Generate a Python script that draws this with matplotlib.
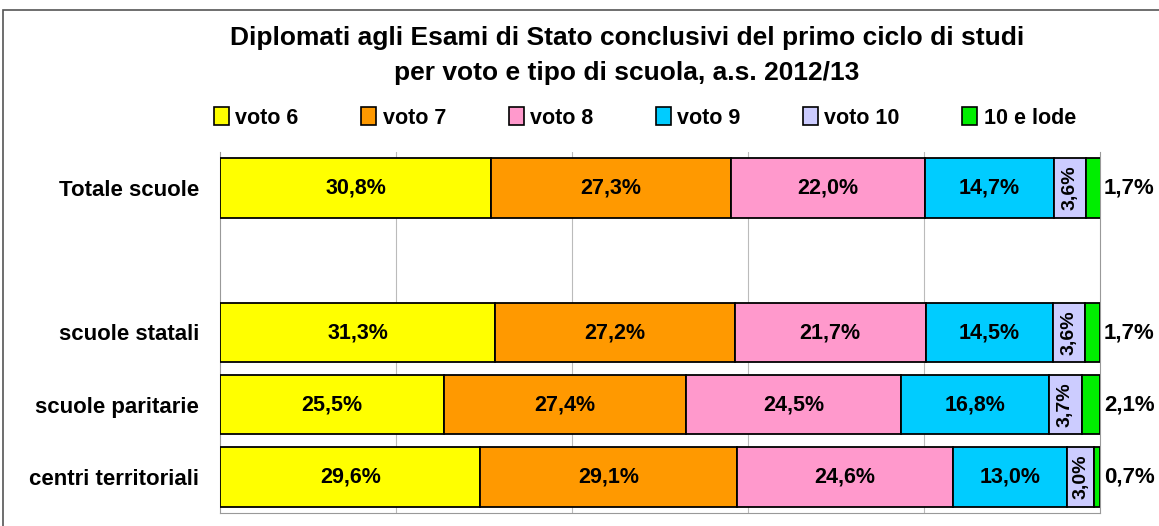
import matplotlib.pyplot as plt
from matplotlib.patches import Rectangle, Patch

# data (percentuali)
categories = ['Totale scuole', '', 'scuole statali', 'scuole paritarie', 'centri territoriali']
series_names = ['voto 6', 'voto 7', 'voto 8', 'voto 9', 'voto 10', '10 e lode']
voto6 = [30.8, None, 31.3, 25.5, 29.6]
voto7 = [27.3, None, 27.2, 27.4, 29.1]
voto8 = [22.0, None, 21.7, 24.5, 24.6]
voto9 = [14.7, None, 14.5, 16.8, 13.0]
voto10 = [3.6, None, 3.6, 3.7, 3.0]
lode = [1.7, None, 1.7, 2.1, 0.7]
colors = ['#FFFF00', '#FF9900', '#FF99CC', '#00CCFF', '#CCCCFF', '#00EE00']

plt.rcParams['font.family'] = ['Liberation Sans', 'DejaVu Sans']


def fmt(v):
    return f'{v:.1f}%'.replace('.', ',')


fig = plt.figure(figsize=(11.59, 5.26), dpi=100)
fig.patches.append(Rectangle((3 / 1159, -0.1), 1.2, (526 - 10) / 526 + 0.1,
                             transform=fig.transFigure, fill=False,
                             edgecolor='#555555', linewidth=1.2))
ax = fig.add_axes([220 / 1159, 13 / 526, 880 / 1159, 361 / 526])

series = [voto6, voto7, voto8, voto9, voto10, lode]
for i, cat in enumerate(categories):
    if series[0][i] is None:
        continue
    left = 0
    for s, (vals, col) in enumerate(zip(series, colors)):
        v = vals[i]
        ax.barh(i, v, left=left, height=0.82, color=col, edgecolor='black',
                linewidth=1.3, zorder=3)
        cx = left + v / 2
        if s < 4:
            ax.text(cx, i, fmt(v), ha='center', va='center', fontsize=15.5,
                    fontweight='bold', zorder=4)
        elif s == 4:
            ax.text(cx, i, fmt(v), ha='center', va='center', fontsize=14,
                    fontweight='bold', rotation=90, zorder=4)
        else:
            ax.text(100.45, i, fmt(v), ha='left', va='center', fontsize=16,
                    fontweight='bold', zorder=4, clip_on=False)
        left += v

ax.set_xlim(0, 100)
ax.set_ylim(4.5, -0.5)
ax.set_xticks([20, 40, 60, 80])
ax.set_xticklabels([])
ax.tick_params(length=0)
ax.xaxis.grid(True, color='#BBBBBB', linewidth=0.8, zorder=0)
ax.set_yticks(range(len(categories)))
ax.set_yticklabels(categories, fontsize=16, fontweight='bold')
ax.tick_params(axis='y', pad=15)
for side in ['left', 'right', 'bottom']:
    ax.spines[side].set_color('#999999')
ax.spines['top'].set_visible(False)

fig.text(627 / 1159, 1 - 38 / 526,
         'Diplomati agli Esami di Stato conclusivi del primo ciclo di studi',
         ha='center', va='center', fontsize=19, fontweight='bold')
fig.text(627 / 1159, 1 - 73 / 526, 'per voto e tipo di scuola, a.s. 2012/13',
         ha='center', va='center', fontsize=19, fontweight='bold')

handles = [Patch(facecolor=c, edgecolor='black', linewidth=1.2) for c in colors]
fig.legend(handles, series_names, loc='center', bbox_to_anchor=(645 / 1159, 1 - 118 / 526),
           ncol=6, frameon=False, handlelength=0.7, handleheight=0.9,
           handletextpad=0.3, columnspacing=2.9, prop={'weight': 'bold', 'size': 15.5})

fig.savefig('out.png', dpi=100)
